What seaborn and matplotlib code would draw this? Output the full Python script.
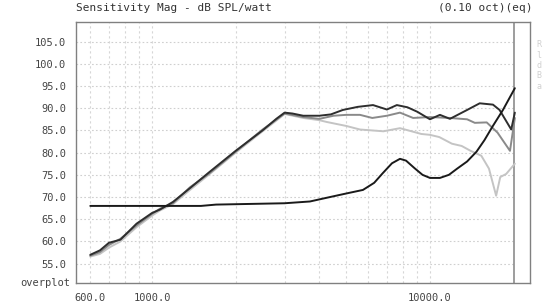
import numpy as np
import pandas as pd
import matplotlib
matplotlib.use("Agg")
import matplotlib.pyplot as plt
import seaborn as sns

# ---- data ----
rise_f = [600, 650, 700, 770, 880, 1000, 1070, 1190, 1370, 1600, 2000, 2500, 2800, 3000]
rise_a = [57.0, 58.0, 59.7, 60.4, 64.0, 66.4, 67.2, 68.9, 72.0, 75.5, 80.4, 85.0, 87.6, 89.0]
rise_b = [56.8, 57.6, 59.2, 60.6, 63.6, 66.2, 67.4, 68.6, 72.2, 75.2, 80.2, 85.2, 87.4, 88.8]
rise_c = [56.6, 57.2, 58.6, 60.0, 63.2, 65.8, 67.0, 68.4, 71.6, 75.0, 80.0, 84.8, 87.2, 88.7]

a_f = [3200, 3500, 4000, 4400, 4860, 5500, 6240, 7000, 7600, 8300, 9000, 10000, 10860, 11800, 13600, 15100, 16850, 17800, 19600, 20200]
a_v = [88.8, 88.3, 88.3, 88.6, 89.6, 90.3, 90.7, 89.7, 90.7, 90.2, 89.2, 87.5, 88.5, 87.6, 89.6, 91.1, 90.8, 89.6, 85.2, 89.0]

b_f = [3500, 4000, 4500, 5000, 5600, 6200, 7000, 7800, 8700, 10000, 11800, 13600, 14500, 16000, 17500, 19400, 20200]
b_v = [88.0, 87.6, 88.3, 88.5, 88.5, 87.8, 88.3, 89.0, 87.8, 88.0, 87.8, 87.5, 86.7, 86.8, 84.5, 80.4, 87.8]

c_f = [3500, 4000, 4250, 5000, 5600, 6800, 7800, 8700, 9300, 10000, 10800, 12000, 13000, 14000, 15300, 16300, 17300, 17900, 18800, 20200]
c_v = [87.8, 87.3, 86.9, 86.0, 85.2, 84.8, 85.5, 84.7, 84.2, 84.0, 83.5, 82.0, 81.5, 80.4, 79.3, 76.4, 70.3, 74.5, 75.2, 77.5]

d_f = [600, 1000, 1500, 1700, 3000, 3700, 4370, 5000, 5740, 6300, 6770, 7300, 7800, 8200, 8800, 9400, 10000, 10860, 11700, 12530, 13600, 14700, 15700, 16800, 18300, 20200]
d_v = [68.0, 68.0, 68.0, 68.3, 68.6, 69.0, 70.0, 70.8, 71.6, 73.2, 75.4, 77.6, 78.6, 78.2, 76.5, 75.0, 74.3, 74.3, 75.0, 76.4, 78.0, 80.2, 82.8, 85.9, 89.6, 94.5]

y_ticks = [55, 60, 65, 70, 75, 80, 85, 90, 95, 100, 105]
x_ticks = [600, 700, 800, 900, 1000, 2000, 3000, 4000, 5000, 6000, 7000, 8000, 9000, 10000, 20000]
x_labeled = [600, 1000, 10000]

title_left = "Sensitivity Mag - dB SPL/watt"
title_right = "(0.10 oct)(eq)"

# ---- build frame ----
curves = {
    "A": (rise_f + a_f, rise_a + a_v, "#2e2e2e"),
    "B": (rise_f + b_f, rise_b + b_v, "#8a8a8a"),
    "C": (rise_f + c_f, rise_c + c_v, "#c4c4c4"),
    "D": (d_f, d_v, "#1a1a1a"),
}

sns.set_style("white")
plt.rcParams["font.family"] = ["DejaVu Sans Mono", "DejaVu Sans"]

fig = plt.figure(figsize=(5.46, 3.08), dpi=100)
ax = fig.add_axes([76 / 546, 1 - 283 / 308, (530 - 76) / 546, (283 - 22) / 308])

ax.set_xscale("log")
ax.set_xlim(533, 22900)
ax.set_ylim(50.65, 109.4)

# grid
xmax_frac = (np.log10(20000) - np.log10(533)) / (np.log10(22900) - np.log10(533))
for y in y_ticks:
    ax.axhline(y, color="#cfcfcf", lw=0.8, ls=(0, (1.5, 2)), xmax=xmax_frac, zorder=0)
for x in x_ticks[:-1]:
    ax.axvline(x, color="#d6d6d6", lw=0.8, ls=(0, (2, 2.5)), zorder=0)
ax.axvline(20000, color="#8c8c8c", lw=1.2, zorder=1)

for name in ["C", "B", "A", "D"]:
    f, v, col = curves[name]
    df = pd.DataFrame({"f": f, "v": v})
    sns.lineplot(data=df, x="f", y="v", ax=ax, color=col, lw=1.4, sort=False, estimator=None)

ax.set_xlabel("")
ax.set_ylabel("")

ax.set_xticks(x_ticks)
ax.set_xticks([], minor=True)
ax.set_xticklabels([f"{x:.1f}" if x in x_labeled else "" for x in x_ticks])
ax.set_yticks(y_ticks)
ax.set_yticklabels([f"{y:.1f}" for y in y_ticks])
ax.tick_params(axis="both", which="major", direction="out", length=4, width=0.8,
               color="#888888", labelsize=7.5, labelcolor="#444444", pad=3)

for s in ax.spines.values():
    s.set_color("#808080")
    s.set_linewidth(1.0)
    s.set_visible(True)

ax.text(-0.012, 0.0, "overplot", transform=ax.transAxes, ha="right", va="center",
        fontsize=7.5, color="#444444")
ax.text(0.0, 1.035, title_left, transform=ax.transAxes, ha="left", va="bottom",
        fontsize=8, color="#333333")
ax.text(1.005, 1.035, title_right, transform=ax.transAxes, ha="right", va="bottom",
        fontsize=8, color="#333333")
ax.text(1.015, 0.93, "R\nl\nd\nB\na", transform=ax.transAxes, ha="left", va="top",
        fontsize=6, color="#d0d0d0", linespacing=1.2)

fig.savefig("out.png", dpi=100, facecolor="white")
